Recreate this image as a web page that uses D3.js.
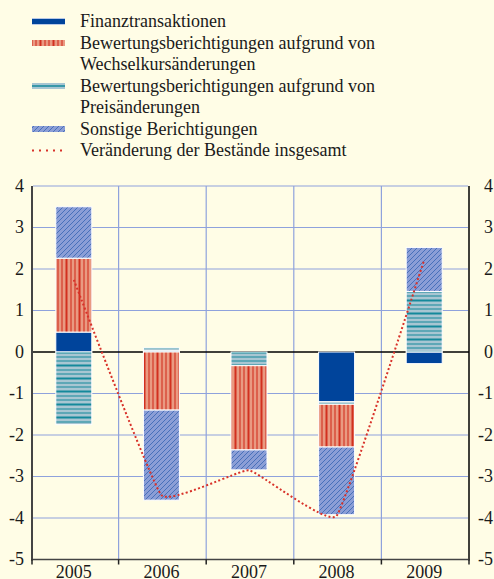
<!DOCTYPE html>
<html>
<head>
<meta charset="utf-8">
<script src="https://cdn.jsdelivr.net/npm/d3@7"></script>
<style>
  body { margin: 0; background: #fffde6; }
  svg { display: block; }
  text { font-family: "Liberation Serif", "DejaVu Serif", serif; font-size: 18px; fill: #1a1a1a; }
</style>
</head>
<body>
<div id="chart"></div>
<script>
// data
var years = ['2005', '2006', '2007', '2008', '2009'];
var finanz = [0.48, 0.03, 0, -1.2, -0.28];
var preis = [-1.75, 0.07, -0.33, -0.06, 1.46];
var wechselkurs = [1.78, -1.4, -2.03, -1.03, 0];
var sonstige = [1.24, -2.17, -0.48, -1.63, 1.06];
var gesamt = [1.74, -3.45, -2.85, -3.95, 2.22];
var yTicks = [4, 3, 2, 1, 0, -1, -2, -3, -4, -5];

var legendLabels = [
    ['Finanztransaktionen'],
    ['Bewertungsberichtigungen aufgrund von', 'Wechselkursänderungen'],
    ['Bewertungsberichtigungen aufgrund von', 'Preisänderungen'],
    ['Sonstige Berichtigungen'],
    ['Veränderung der Bestände insgesamt']
];

var width = 494, height = 579;
var plotLeft = 31, plotRight = 469, plotTop = 186, plotBottom = 559.5;

var svg = d3.select('#chart').append('svg')
    .attr('width', width)
    .attr('height', height);

svg.append('rect').attr('width', width).attr('height', height).attr('fill', '#fffde6');

// patterns
var defs = svg.append('defs');

var pW = defs.append('pattern').attr('id', 'p-wechsel')
    .attr('patternUnits', 'userSpaceOnUse').attr('width', 13).attr('height', 10);
pW.append('rect').attr('width', 13).attr('height', 10).attr('fill', '#e99a82');
[[1.5, 2], [6, 1.1], [10, 1.1]].forEach(function (l) {
    pW.append('line').attr('x1', l[0]).attr('x2', l[0]).attr('y1', 0).attr('y2', 10)
        .attr('stroke', '#d2301f').attr('stroke-width', l[1]);
});

var pP = defs.append('pattern').attr('id', 'p-preis')
    .attr('patternUnits', 'userSpaceOnUse').attr('width', 10).attr('height', 13);
pP.append('rect').attr('width', 10).attr('height', 13).attr('fill', '#a8c6d2');
[[1.5, 2], [6, 1], [10, 1]].forEach(function (l) {
    pP.append('line').attr('y1', l[0]).attr('y2', l[0]).attr('x1', 0).attr('x2', 10)
        .attr('stroke', '#14899b').attr('stroke-width', l[1]);
});

var pS = defs.append('pattern').attr('id', 'p-sonst')
    .attr('patternUnits', 'userSpaceOnUse').attr('width', 5).attr('height', 5);
pS.append('rect').attr('width', 5).attr('height', 5).attr('fill', '#8b9ed6');
pS.append('path').attr('d', 'M0,5 L5,0 M-1,1 L1,-1 M4,6 L6,4')
    .attr('stroke', '#3160b0').attr('stroke-width', 0.75);

var series = [
    {key: 'finanz', values: finanz, fill: '#00449b'},
    {key: 'preis', values: preis, fill: 'url(#p-preis)'},
    {key: 'wechselkurs', values: wechselkurs, fill: 'url(#p-wechsel)'},
    {key: 'sonstige', values: sonstige, fill: 'url(#p-sonst)'}
];
var fills = {};
series.forEach(function (s) { fills[s.key] = s.fill; });

var rows = years.map(function (yr, i) {
    var r = {year: yr};
    series.forEach(function (s) { r[s.key] = s.values[i]; });
    return r;
});

var stacked = d3.stack()
    .keys(series.map(function (s) { return s.key; }))
    .offset(d3.stackOffsetDiverging)(rows);

// scales
var x = d3.scaleBand().domain(years).range([plotLeft, plotRight]);
var y = d3.scaleLinear().domain([-5, 4]).range([plotBottom, plotTop]);
var barW = 36;
var cx = function (yr) { return x(yr) + x.bandwidth() / 2 - 1; };

// grid
var grid = svg.append('g');
yTicks.filter(function (t) { return t != 0 && t != -5; }).forEach(function (t) {
    grid.append('line').attr('x1', plotLeft + 2).attr('x2', plotRight - 1)
        .attr('y1', y(t)).attr('y2', y(t))
        .attr('stroke', '#8fa2dc').attr('stroke-width', 1.2);
});
years.slice(1).forEach(function (yr) {
    grid.append('line').attr('x1', x(yr)).attr('x2', x(yr))
        .attr('y1', plotTop).attr('y2', plotBottom)
        .attr('stroke', '#8fa2dc').attr('stroke-width', 1.2);
});

// zero line
svg.append('line').attr('x1', plotLeft).attr('x2', plotRight)
    .attr('y1', y(0)).attr('y2', y(0))
    .attr('stroke', '#000').attr('stroke-width', 1.5);

// bars
svg.append('g').selectAll('g')
    .data(stacked)
    .enter().append('g')
    .attr('fill', function (d) { return fills[d.key]; })
    .selectAll('rect')
    .data(function (d) { return d.filter(function (p) { return p[1] - p[0] != 0; }); })
    .enter().append('rect')
    .attr('x', function (d) { return cx(d.data.year) - barW / 2; })
    .attr('width', barW)
    .attr('y', function (d) { return y(Math.max(d[0], d[1])); })
    .attr('height', function (d) { return Math.abs(y(d[0]) - y(d[1])); })
    .attr('stroke', '#fff')
    .attr('stroke-width', 1);

// total line
var line = d3.line()
    .x(function (d, i) { return cx(years[i]); })
    .y(function (d) { return y(d); })
    .curve(d3.curveCardinal.tension(0.7));

svg.append('path')
    .datum(gesamt)
    .attr('d', line)
    .attr('fill', 'none')
    .attr('stroke', '#d8322a')
    .attr('stroke-width', 2)
    .attr('stroke-dasharray', '2,2.3');

// axes
svg.append('line').attr('x1', 32).attr('x2', 32).attr('y1', plotTop).attr('y2', plotBottom + 1)
    .attr('stroke', '#444').attr('stroke-width', 2);
svg.append('line').attr('x1', plotRight).attr('x2', plotRight).attr('y1', plotTop).attr('y2', plotBottom + 1)
    .attr('stroke', '#000').attr('stroke-width', 1.5);
svg.append('line').attr('x1', plotLeft).attr('x2', plotRight).attr('y1', plotBottom).attr('y2', plotBottom)
    .attr('stroke', '#444').attr('stroke-width', 1.5);
years.concat(['end']).forEach(function (yr, i) {
    var xx = i < years.length ? x(yr) : plotRight;
    if (i == 0) xx = 32;
    svg.append('line').attr('x1', xx).attr('x2', xx).attr('y1', plotBottom).attr('y2', plotBottom + 5)
        .attr('stroke', '#222').attr('stroke-width', 1.5);
});

yTicks.forEach(function (t) {
    svg.append('text').attr('x', 24).attr('y', y(t)).attr('dy', '0.33em')
        .attr('text-anchor', 'end').text(t);
    svg.append('text').attr('x', 493).attr('y', y(t)).attr('dy', '0.33em')
        .attr('text-anchor', 'end').text(t);
});

years.forEach(function (yr) {
    svg.append('text').attr('x', cx(yr)).attr('y', 578)
        .attr('text-anchor', 'middle').text(yr);
});

// legend
var lg = svg.append('g');
var rowH = 21.5, base = 27, row = 0;
legendLabels.forEach(function (lab, i) {
    var by = base + row * rowH;
    var sy = by - 5.5;
    if (i == 0) {
        lg.append('rect').attr('x', 32).attr('y', sy - 3.5).attr('width', 33).attr('height', 7).attr('fill', '#b9c9e6');
        lg.append('rect').attr('x', 32).attr('y', sy - 2.5).attr('width', 33).attr('height', 5).attr('fill', '#00449b');
    } else if (i == 1) {
        lg.append('rect').attr('x', 32).attr('y', sy - 3).attr('width', 33).attr('height', 6).attr('fill', 'url(#p-wechsel)');
    } else if (i == 2) {
        lg.append('rect').attr('x', 32).attr('y', sy - 3).attr('width', 33).attr('height', 6).attr('fill', '#a8c6d2');
        lg.append('line').attr('x1', 32).attr('x2', 65).attr('y1', sy).attr('y2', sy)
            .attr('stroke', '#14899b').attr('stroke-width', 1.5);
    } else if (i == 3) {
        lg.append('rect').attr('x', 32).attr('y', sy - 3).attr('width', 33).attr('height', 6).attr('fill', 'url(#p-sonst)');
    } else {
        lg.append('line').attr('x1', 32).attr('x2', 66).attr('y1', sy).attr('y2', sy)
            .attr('stroke', '#d8322a').attr('stroke-width', 2).attr('stroke-dasharray', '2,5');
    }
    lab.forEach(function (t) {
        lg.append('text').attr('x', 80).attr('y', base + row * rowH).text(t);
        row++;
    });
});
</script>
</body>
</html>
